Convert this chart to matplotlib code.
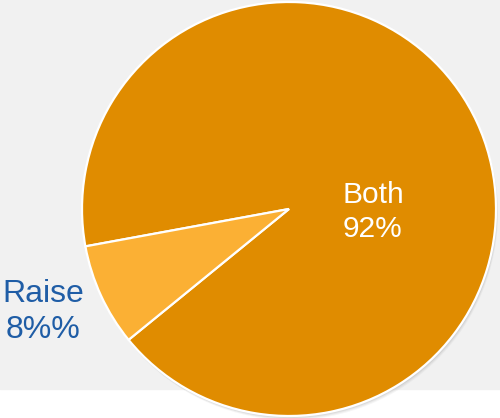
import matplotlib.pyplot as plt
from matplotlib.patches import Rectangle, Circle

labels = ['Both', 'Raise']
shares = [92, 8]
label_text = ['Both\n92%', 'Raise\n8%%']

colors = ['#e08c00', '#fbb034']
W, H = 500, 418

fig = plt.figure(figsize=(W / 100, H / 100), dpi=100)
ax = fig.add_axes([0, 0, 1, 1])

# grey panel behind the pie, white strip at the bottom
ax.add_patch(Rectangle((0, H - 389), W, 389, color='#f1f1f1', zorder=0))

cx, cy, r = 289, H - 209, 207
# soft drop shadow
for off, a in [(4, 0.08), (3, 0.10), (2, 0.14)]:
    ax.add_patch(Circle((cx + off * 0.5, cy - off), r, color='#888888', alpha=a, lw=0, zorder=1))

wedges, _ = ax.pie(shares, colors=colors, startangle=219.2, counterclock=True,
                   center=(cx, cy), radius=r, frame=True,
                   wedgeprops=dict(edgecolor='white', linewidth=1.6))
for w in wedges:
    w.set_zorder(2)
ax.set_xlim(0, W)
ax.set_ylim(0, H)
ax.set_aspect('equal')
ax.axis('off')

ax.text(373, H - 212, label_text[0], color='white', fontsize=21.5, ha='center', va='center',
        family='Liberation Sans', linespacing=1.3, zorder=3)
ax.text(43, H - 312, label_text[1], color='#1f5da6', fontsize=23, ha='center', va='center',
        family='Liberation Sans', linespacing=1.25, zorder=3)

fig.savefig('out.png', dpi=100)
